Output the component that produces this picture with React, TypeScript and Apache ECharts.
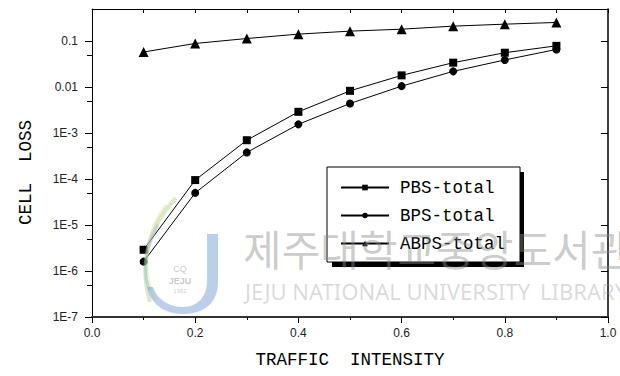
import React, { useEffect, useRef } from "react";
import * as echarts from "echarts";

const xValues = [0.1, 0.2, 0.3, 0.4, 0.5, 0.6, 0.7, 0.8, 0.9];
const pbsTotal = [2.9e-6, 9.5e-5, 7.0e-4, 2.9e-3, 8.3e-3, 0.018, 0.034, 0.056, 0.079];
const bpsTotal = [1.6e-6, 5.0e-5, 3.8e-4, 1.55e-3, 4.4e-3, 0.0105, 0.022, 0.039, 0.066];
const abpsTotal = [0.058, 0.089, 0.114, 0.142, 0.165, 0.182, 0.212, 0.234, 0.255];
const seriesNames = ["PBS-total", "BPS-total", "ABPS-total"];
const yMajorTicks = [1e-7, 1e-6, 1e-5, 1e-4, 1e-3, 0.01, 0.1];
const yTickLabels = ["1E-7", "1E-6", "1E-5", "1E-4", "1E-3", "0.01", "0.1"];
const yMinorTicks = [5e-7, 5e-6, 5e-5, 5e-4, 5e-3, 0.05];

const J_PATH =
  "M207,234 L218,234 L218,282 C218,303 204,314 183,314 C164,314 150,303 147,287 L153,287 C157,299 168,307 183,307 C198,307 207,296 207,281 Z";

let registered = false;

export default function App() {
  const ref = useRef<HTMLDivElement>(null);
  useEffect(() => {
    document.body.style.margin = "0";
    if (!registered) {
      echarts.graphic.registerShape("jlogo", echarts.graphic.extendPath(J_PATH, {}) as any);
      registered = true;
    }
    const chart = echarts.init(ref.current!, null, { renderer: "svg" });
    const mono = "'Liberation Mono', 'DejaVu Sans Mono', monospace";
    const sans = "'Liberation Sans', Arial, sans-serif";
    const labelFor = (v: number) => {
      const lg = Math.round(Math.log10(v));
      const idx = yMajorTicks.findIndex((t) => Math.round(Math.log10(t)) === lg);
      return idx >= 0 ? yTickLabels[idx] : "";
    };
    const yBase: any = {
      type: "log",
      logBase: 10,
      min: 1e-7,
      max: 0.5,
      splitLine: { show: false },
      minorTick: { show: false },
      minorSplitLine: { show: false },
    };
    const black = { color: "#000", width: 1 };
    const mk = (name: string, vals: number[], symbol: string, size: number) => ({
      name,
      type: "line",
      xAxisIndex: 0,
      yAxisIndex: 0,
      data: xValues.map((x, i) => [x, vals[i]]),
      symbol,
      symbolSize: size,
      itemStyle: { color: "#000" },
      lineStyle: { color: "#000", width: 1 },
      z: 5,
    });
    const wm = 100;
    const option: any = {
      animation: false,
      backgroundColor: "#fff",
      grid: { left: 92, right: 12, top: 9, bottom: 59, containLabel: false },
      xAxis: [
        {
          type: "value",
          position: "bottom",
          min: 0,
          max: 1,
          interval: 0.2,
          axisLine: { show: true, onZero: false, lineStyle: { color: "#333", width: 2 } },
          axisTick: { show: true, inside: false, length: 6, lineStyle: black },
          minorTick: { show: true, splitNumber: 2, length: 3, lineStyle: black },
          axisLabel: {
            formatter: (v: number) => v.toFixed(1),
            margin: 10,
            fontSize: 12,
            color: "#222",
            fontFamily: sans,
          },
          splitLine: { show: false },
          name: "TRAFFIC  INTENSITY",
          nameLocation: "middle",
          nameGap: 34,
          nameTextStyle: { fontFamily: mono, fontSize: 17.5, color: "#000" },
        },
        {
          type: "value",
          position: "top",
          min: 0,
          max: 1,
          interval: 0.1,
          axisLine: { show: true, onZero: false, lineStyle: black },
          axisTick: { show: true, inside: true, length: 4, lineStyle: black },
          axisLabel: { show: false },
          splitLine: { show: false },
        },
      ],
      yAxis: [
        {
          ...yBase,
          position: "left",
          axisLine: { show: true, onZero: false, lineStyle: black },
          axisTick: { show: true, inside: false, length: 7, customValues: yMajorTicks, lineStyle: black },
          axisLabel: {
            customValues: yMajorTicks,
            formatter: labelFor,
            margin: 14,
            fontSize: 12,
            color: "#222",
            fontFamily: sans,
          },
          name: "CELL  LOSS",
          nameLocation: "middle",
          nameGap: 57,
          nameTextStyle: { fontFamily: mono, fontSize: 17.5, color: "#000", padding: [0, 19, 0, 0] },
        },
        {
          ...yBase,
          position: "left",
          axisLine: { show: false },
          axisTick: { show: true, inside: false, length: 5, customValues: yMinorTicks, lineStyle: black },
          axisLabel: { show: false, customValues: yMinorTicks },
        },
        {
          ...yBase,
          position: "right",
          axisLine: { show: true, onZero: false, lineStyle: { color: "#000", width: 1.5 } },
          axisTick: { show: true, inside: true, length: 7, customValues: yMajorTicks, lineStyle: black },
          axisLabel: { show: false, customValues: yMajorTicks },
        },
        {
          ...yBase,
          position: "right",
          axisLine: { show: false },
          axisTick: { show: true, inside: true, length: 3, customValues: yMinorTicks, lineStyle: black },
          axisLabel: { show: false, customValues: yMinorTicks },
        },
      ],
      legend: {
        data: seriesNames,
        orient: "vertical",
        left: 327,
        top: 167,
        z: 10,
        backgroundColor: "#fff",
        borderColor: "#000",
        borderWidth: 1,
        padding: [11, 15, 9, 13],
        itemWidth: 48,
        itemHeight: 7,
        itemGap: 9,
        textStyle: { fontFamily: mono, fontSize: 17.5, color: "#000", lineHeight: 19, padding: [0, 0, 0, 6] },
      },
      series: [
        mk(seriesNames[0], pbsTotal, "rect", 8),
        mk(seriesNames[1], bpsTotal, "circle", 8),
        mk(seriesNames[2], abpsTotal, "triangle", 10),
      ],
      graphic: [
        {
          type: "rect",
          silent: true,
          z: 9,
          shape: { x: 332, y: 172, width: 192, height: 95 },
          style: { fill: "#000" },
        },
        {
          type: "bezierCurve",
          silent: true,
          z: wm,
          shape: { x1: 176, y1: 198, cpx1: 150, cpy1: 225, cpx2: 138, cpy2: 262, x2: 150, y2: 302 },
          style: { stroke: "rgba(150,195,110,0.35)", lineWidth: 4, fill: "none" },
        },
        {
          type: "bezierCurve",
          silent: true,
          z: wm,
          shape: { x1: 166, y1: 205, cpx1: 146, cpy1: 232, cpx2: 140, cpy2: 268, x2: 155, y2: 300 },
          style: { stroke: "rgba(225,215,120,0.35)", lineWidth: 3, fill: "none" },
        },
        {
          type: "bezierCurve",
          silent: true,
          z: wm,
          shape: { x1: 158, y1: 225, cpx1: 144, cpy1: 250, cpx2: 142, cpy2: 275, x2: 150, y2: 290 },
          style: { stroke: "rgba(120,180,225,0.35)", lineWidth: 3, fill: "none" },
        },
        {
          type: "jlogo",
          silent: true,
          z: wm,
          style: { fill: "rgba(120,160,215,0.5)" },
        },
        {
          type: "text",
          silent: true,
          z: wm,
          x: 180,
          y: 264,
          style: { text: "CQ", fontSize: 9, fill: "rgba(130,130,140,0.45)", align: "center", verticalAlign: "top", fontFamily: sans },
        },
        {
          type: "text",
          silent: true,
          z: wm,
          x: 180,
          y: 276,
          style: { text: "JEJU", fontSize: 9, fontWeight: "bold", fill: "rgba(130,130,140,0.45)", align: "center", verticalAlign: "top", fontFamily: sans },
        },
        {
          type: "text",
          silent: true,
          z: wm,
          x: 180,
          y: 288,
          style: { text: "1952", fontSize: 6, fill: "rgba(130,130,140,0.45)", align: "center", verticalAlign: "top", fontFamily: sans },
        },
        {
          type: "text",
          silent: true,
          z: wm,
          x: 243,
          y: 226,
          style: {
            text: "제주대학교중앙도서관",
            fontSize: 42,
            fontFamily: "'Noto Sans CJK KR', sans-serif",
            fill: "rgba(140,140,140,0.45)",
            verticalAlign: "top",
          },
        },
        {
          type: "text",
          silent: true,
          z: wm,
          x: 245,
          y: 280,
          style: {
            text: "JEJU NATIONAL UNIVERSITY",
            fontSize: 22,
            fontFamily: "'Noto Sans', sans-serif",
            fill: "rgba(150,150,150,0.35)",
            verticalAlign: "top",
          },
        },
        {
          type: "text",
          silent: true,
          z: wm,
          x: 540,
          y: 280,
          style: {
            text: "LIBRARY",
            fontSize: 22,
            fontFamily: "'Noto Sans', sans-serif",
            fill: "rgba(150,150,150,0.35)",
            verticalAlign: "top",
          },
        },
      ],
    };
    chart.setOption(option);
    return () => chart.dispose();
  }, []);
  return (
    <div
      ref={ref}
      style={{ position: "absolute", left: 0, top: 0, width: 620, height: 376, background: "#fff" }}
    />
  );
}
